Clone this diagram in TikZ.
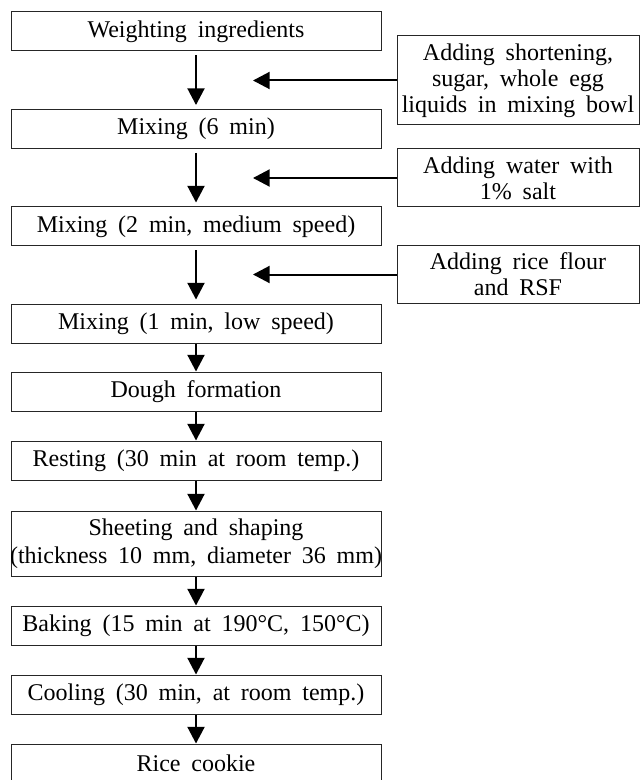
\documentclass[tikz,border=0pt]{standalone}
\usepackage{fontspec}
\setmainfont{Liberation Serif}[WordSpace=1.8]
\usetikzlibrary{arrows.meta}

\tikzset{
  stepbox/.style={draw=black!85, line width=0.75pt, inner sep=0pt, align=center,
    minimum width=277.5pt, minimum height=29.25pt,
    font=\fontsize{18pt}{19.5pt}\selectfont},
  addbox/.style={stepbox, minimum width=181.5pt},
  flowarrow/.style={line width=1.5pt, -{Triangle[length=12.5pt,width=12.75pt]}},
  gaparrow/.style={flowarrow, shorten <=3pt, shorten >=3pt}
}

\begin{document}
\begin{tikzpicture}[x=0.75pt,y=0.75pt,yscale=-1]
\useasboundingbox (0,0) rectangle (641,780);

% main line
\node [stepbox] (weigh) at (196, 31.5) {Weighting ingredients};
\node [stepbox] (mixa) at (196, 129) {Mixing (6 min)};
\node [stepbox] (mixb) at (196, 226.5) {Mixing (2 min, medium speed)};
\node [stepbox] (mixc) at (196, 323.5) {Mixing (1 min, low speed)};
\node [stepbox] (dough) at (196, 391.5) {Dough formation};
\node [stepbox] (rest) at (196, 460.5) {Resting (30 min at room temp.)};
\node [stepbox, minimum height=48.75pt] (sheet) at (196, 543.5) {Sheeting and shaping\\[1.5pt]\makebox[277.5pt]{(thickness 10 mm, diameter 36 mm)}};
\node [stepbox] (bake) at (196, 625.5) {Baking (15 min at 190°C, 150°C)};
\node [stepbox] (cool) at (196, 694.5) {Cooling (30 min, at room temp.)};
\node [stepbox] (cookie) at (196, 763.5) {Rice cookie};

% added ingredients
\node [addbox, minimum height=66.75pt] (adda) at (518, 80.5) {Adding shortening,\\sugar, whole egg\\liquids in mixing bowl};
\node [addbox, minimum height=43.5pt] (addb) at (518, 178) {Adding water with\\1\% salt};
\node [addbox, minimum height=42.75pt] (addc) at (518, 274.5) {Adding rice flour\\and RSF};

\coordinate (tipa) at (253, 80.5);
\coordinate (tipb) at (253, 178);
\coordinate (tipc) at (253, 274.5);

\draw [gaparrow] (weigh) -- (mixa);
\draw [gaparrow] (mixa) -- (mixb);
\draw [gaparrow] (mixb) -- (mixc);

\draw [flowarrow] (adda.west) -- (tipa);
\draw [flowarrow] (addb.west) -- (tipb);
\draw [flowarrow] (addc.west) -- (tipc);

\draw [flowarrow] (mixc) -- (dough);
\draw [flowarrow] (dough) -- (rest);
\draw [flowarrow] (rest) -- (sheet);
\draw [flowarrow] (sheet) -- (bake);
\draw [flowarrow] (bake) -- (cool);
\draw [flowarrow] (cool) -- (cookie);

\end{tikzpicture}
\end{document}
